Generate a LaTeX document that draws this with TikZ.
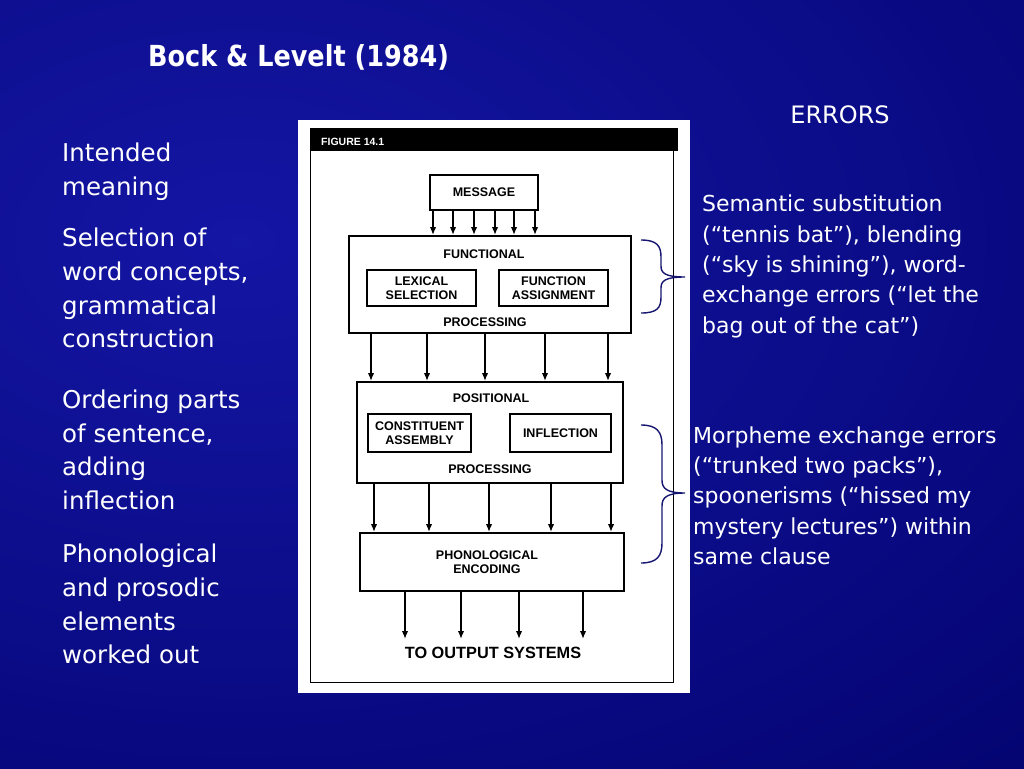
\documentclass[tikz,border=0pt]{standalone}
\usepackage{fontspec}
\setmainfont{DejaVu Sans}
\newfontfamily\titlefont[FakeStretch=0.88]{DejaVu Sans}
\newfontfamily\figfont{Liberation Sans}
\usetikzlibrary{arrows.meta}
\definecolor{bglight}{RGB}{20,22,164}
\definecolor{bgdark}{RGB}{0,0,102}
\definecolor{bracecol}{RGB}{22,22,112}
\newcommand{\txtblk}[1]{\begin{tabular}[t]{@{}l@{}}#1\end{tabular}}
\tikzset{
  lefttxt/.style={anchor=base west, inner sep=0, text=white, font=\fontsize{24.5}{33.7}\selectfont},
  righttxt/.style={anchor=base west, inner sep=0, text=white, font=\fontsize{22}{30.4}\selectfont},
  box/.style={draw=black, line width=1.9pt, fill=white, inner sep=0},
  figtxt/.style={inner sep=0, align=center, font=\figfont\bfseries\fontsize{12.5}{14}\selectfont},
  arr/.style={line width=1.7pt, -{Latex[length=8pt,width=6.5pt]}},
  bracestyle/.style={draw=bracecol, line width=1.4pt}
}
\begin{document}
\begin{tikzpicture}[x=1pt,y=-1pt]
\useasboundingbox (0,0) rectangle (1024,768);
% background
\fill[bgdark] (0,0) rectangle (1024,768);
\begin{scope}
  \clip (0,0) rectangle (1024,768);
  \shade[inner color=bglight, outer color=bgdark] (240,240) ellipse [x radius=1420pt, y radius=900pt];
\end{scope}

% title
\node[anchor=base west, inner sep=0, text=white, font=\titlefont\bfseries\fontsize{29}{31}\selectfont] (title) at (148,66.7) {Bock \& Levelt (1984)};

% left column
\node[lefttxt] (l1) at (62,161.5) {\txtblk{Intended\\meaning}};
\node[lefttxt] (l2) at (62,246.7) {\txtblk{Selection of\\word concepts,\\grammatical\\construction}};
\node[lefttxt] (l3) at (62,408.3) {\txtblk{Ordering parts\\of sentence,\\adding\\inflection}};
\node[lefttxt] (l4) at (62,562.7) {\txtblk{Phonological\\and prosodic\\elements\\worked out}};

% figure panel
\fill[white] (298,120) rectangle (690,693);
\fill[black] (310,128) rectangle (678,151);
\node[anchor=base west, inner sep=0, text=white, font=\figfont\bfseries\fontsize{10.5}{12}\selectfont] (figlabel) at (321,145) {FIGURE 14.1};
\draw[line width=1pt] (310,151) -- (310,682) -- (673,682) -- (673,151);

% boxes
\node[box, minimum width=108pt, minimum height=35pt] (msg) at (484,192.5) {};
\node[figtxt] (msgt) at (msg.center) {MESSAGE};

\node[box, minimum width=282pt, minimum height=97pt] (func) at (490,284.5) {};
\node[figtxt] (funct) at (484,254) {FUNCTIONAL};
\node[box, minimum width=109pt, minimum height=36pt] (lex) at (421.5,288) {};
\node[figtxt] (lext) at (lex.center) {LEXICAL\\SELECTION};
\node[box, minimum width=109pt, minimum height=36pt] (fa) at (553.5,288) {};
\node[figtxt] (fat) at (fa.center) {FUNCTION\\ASSIGNMENT};
\node[figtxt] (funcp) at (485,322) {PROCESSING};

\node[box, minimum width=266pt, minimum height=101pt] (pos) at (490,432.5) {};
\node[figtxt] (post) at (491,398) {POSITIONAL};
\node[box, minimum width=103pt, minimum height=38pt] (ca) at (419.5,433) {};
\node[figtxt] (cat) at (ca.center) {CONSTITUENT\\ASSEMBLY};
\node[box, minimum width=101pt, minimum height=38pt] (infl) at (560.5,433) {};
\node[figtxt] (inflt) at (infl.center) {INFLECTION};
\node[figtxt] (posp) at (490,469) {PROCESSING};

\node[box, minimum width=264pt, minimum height=58pt] (phon) at (492,562) {};
\node[figtxt] (phont) at (487,562) {PHONOLOGICAL\\ENCODING};

\node[inner xsep=0, inner ysep=8pt, font=\figfont\bfseries\fontsize{16.3}{18}\selectfont] (out) at (493,653) {TO OUTPUT SYSTEMS};

% arrows
\foreach \x in {433,453,474,495,514,535}
  \draw[arr] (msg.south -| \x,0) -- (func.north -| \x,0);
\foreach \x in {371,427,485,545,608}
  \draw[arr] (func.south -| \x,0) -- (pos.north -| \x,0);
\foreach \x in {374,429,489,551,611}
  \draw[arr] (pos.south -| \x,0) -- (phon.north -| \x,0);
\foreach \x in {405,461,519,583}
  \draw[arr] (phon.south -| \x,0) -- (out.north -| \x,0);

% braces
\draw[bracestyle] (641,240) .. controls (657,240) and (661,246) .. (661,257) -- (661,266)
  .. controls (661,273) and (665,277) .. (685,277)
  .. controls (665,277) and (661,281) .. (661,288) -- (661,297)
  .. controls (661,308) and (657,313) .. (641,313);
\draw[bracestyle] (641,425) .. controls (657,425) and (662,432) .. (662,445) -- (662,480)
  .. controls (662,488) and (666,493) .. (685,493)
  .. controls (666,493) and (662,498) .. (662,506) -- (662,543)
  .. controls (662,556) and (657,563) .. (641,563);

% right column
\node[anchor=base, inner sep=0, text=white, font=\fontsize{24}{26}\selectfont] (errors) at (840,123.3) {ERRORS};
\node[righttxt] (sem) at (702,211.7) {\txtblk{Semantic substitution\\(“tennis bat”), blending\\(“sky is shining”), word-\\exchange errors (“let the\\bag out of the cat”)}};
\node[righttxt] (morph) at (693,443) {\txtblk{Morpheme exchange errors\\(“trunked two packs”),\\spoonerisms (“hissed my\\mystery lectures”) within\\same clause}};
\end{tikzpicture}
\end{document}
